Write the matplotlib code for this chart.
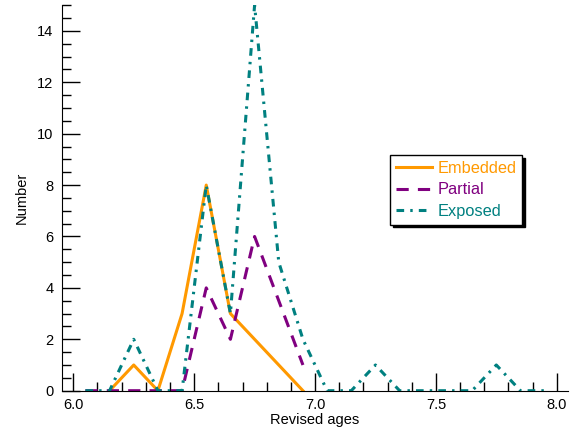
import matplotlib
matplotlib.use("Agg")
import matplotlib.pyplot as plt
from matplotlib.ticker import MultipleLocator

plt.rcParams["font.family"] = ["Liberation Sans", "DejaVu Sans"]

# bin centres and counts
embedded_x = [6.15, 6.25, 6.35, 6.45, 6.55, 6.65, 6.75, 6.85, 6.95]
embedded_y = [0, 1, 0, 3, 8, 3, 2, 1, 0]

partial_x = [6.05, 6.15, 6.25, 6.35, 6.45, 6.55, 6.65, 6.75, 6.85, 6.95]
partial_y = [0, 0, 0, 0, 0, 4, 2, 6, 3.5, 1]

exposed_x = [6.05, 6.15, 6.25, 6.35, 6.45, 6.55, 6.65, 6.75, 6.85, 6.95,
             7.05, 7.15, 7.25, 7.35, 7.45, 7.55, 7.65, 7.75, 7.85, 7.95]
exposed_y = [0, 0, 2, 0, 0, 8, 3, 15, 5, 2,
             0, 0, 1, 0, 0, 0, 0, 1, 0, 0]

fig = plt.figure(figsize=(5.75, 4.3), dpi=100)
ax = fig.add_axes([0.1073, 0.0914, 0.8807, 0.8966])

ax.plot(embedded_x, embedded_y, color="#FF9900", lw=2.2, ls="-", label="Embedded")
ax.plot(partial_x, partial_y, color="#800080", lw=2.2, ls=(0, (4, 3)), label="Partial")
ax.plot(exposed_x, exposed_y, color="#008080", lw=2.2, ls=(0, (2.5, 2, 0.8, 2)),
        label="Exposed")

ax.set_xlim(5.952, 8.047)
ax.set_ylim(0, 15)
ax.xaxis.set_major_locator(MultipleLocator(0.5))
ax.xaxis.set_minor_locator(MultipleLocator(0.1))
ax.yaxis.set_major_locator(MultipleLocator(2))
ax.yaxis.set_minor_locator(MultipleLocator(0.5))
ax.xaxis.set_major_formatter(plt.FuncFormatter(lambda v, p: f"{v:.1f}"))
ax.tick_params(which="both", direction="in", width=1, labelsize=10.5)
ax.tick_params(which="major", length=13)
ax.tick_params(which="minor", length=6.5)
ax.tick_params(axis="x", pad=5)
ax.tick_params(axis="y", pad=6)
for side in ("top", "right"):
    ax.spines[side].set_visible(False)

ax.set_xlabel("Revised ages", fontsize=10.5, labelpad=1)
ax.set_ylabel("Number", fontsize=10.5, labelpad=6)

leg = ax.legend(loc="upper left", bbox_to_anchor=(390 / 575, 1 - 155 / 430),
                bbox_transform=fig.transFigure, fontsize=11.8, frameon=True,
                fancybox=False, edgecolor="black", handlelength=2.2,
                handletextpad=0.35, borderpad=0.35, labelspacing=0.4,
                borderaxespad=0, shadow={"color": "black", "alpha": 1})
leg.get_frame().set_linewidth(1)
for txt, line in zip(leg.get_texts(), leg.get_lines()):
    txt.set_color(line.get_color())

fig.savefig("out.png", dpi=100)
